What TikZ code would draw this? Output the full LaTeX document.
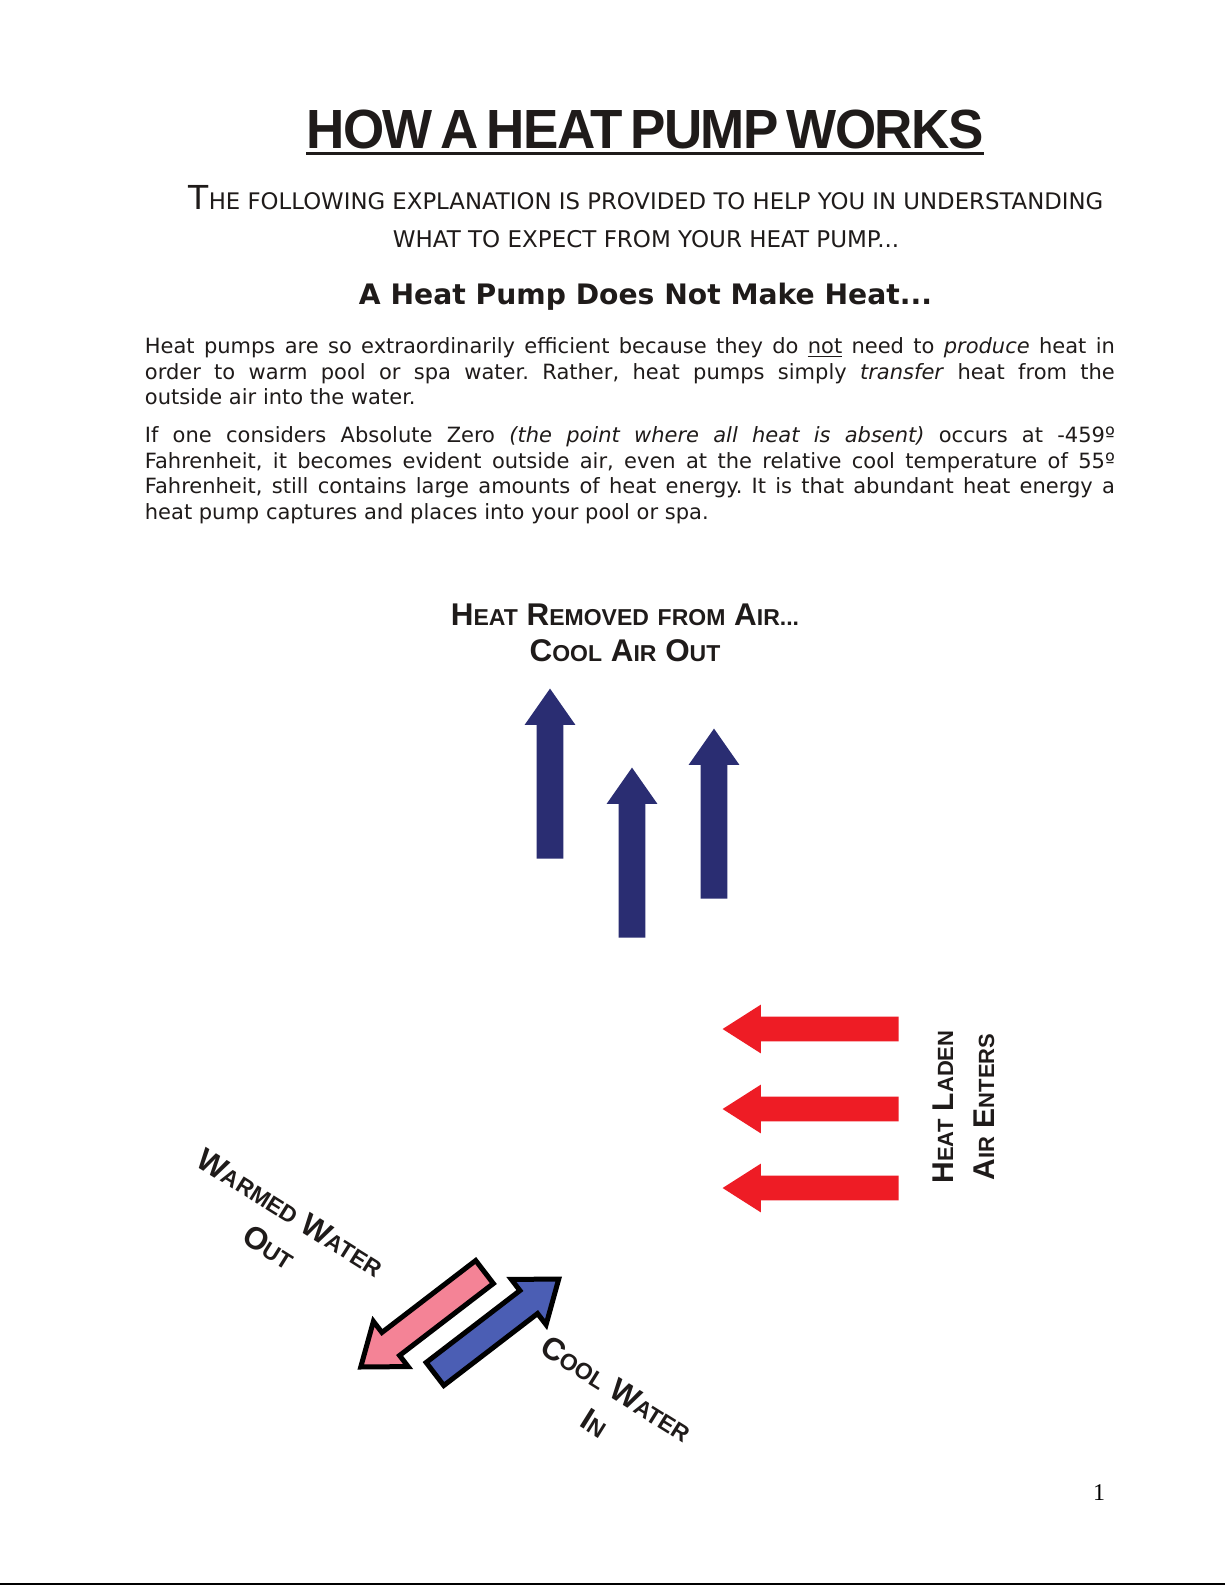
\documentclass[tikz,border=0pt]{standalone}
\usepackage{fontspec}
\setmainfont{DejaVu Sans}
\newfontfamily\headfont{Liberation Sans}
\newfontfamily\titlefont[LetterSpace=-3,WordSpace=0.6]{Liberation Sans}
\newfontfamily\numfont{Liberation Serif}
\usepackage{tikz}
\usetikzlibrary{shapes.arrows,positioning}
\definecolor{airblue}{HTML}{2A2D72}
\definecolor{airred}{HTML}{EE1C25}
\definecolor{warmpink}{HTML}{F48396}
\definecolor{coolblue}{HTML}{4B5EB4}
\definecolor{darktext}{HTML}{1F1B1A}
% big first letter, small rest (fake small caps)
\newcommand{\bigsz}{15}
\newcommand{\smsz}{11}
\newcommand{\capw}[2]{{\fontsize{\bigsz}{\bigsz}\selectfont #1}{\fontsize{\smsz}{\smsz}\selectfont #2}}
\newcommand{\smw}[1]{{\fontsize{\smsz}{\smsz}\selectfont #1}}
\tikzset{
  labeltext/.style={font=\headfont\bfseries\fontsize{15}{20.5}\selectfont,text=darktext,align=center,inner sep=0pt},
  widelabel/.style={font=\renewcommand{\bigsz}{15.7}\renewcommand{\smsz}{11.5}\headfont\bfseries\fontsize{15.7}{#1}\selectfont},
  bodytext/.style={font=\frenchspacing\fontsize{10.5}{12.75}\selectfont,text=darktext,text width=485pt,align=justify,inner sep=0pt,anchor=base west},
  uparrow/.style={single arrow,fill=airblue,inner sep=0pt,inner ysep=6.5pt,minimum height=85pt,single arrow head extend=6pt,single arrow tip angle=70,rotate=90,anchor=tail},
  inarrow/.style={single arrow,fill=airred,inner sep=0pt,inner ysep=6pt,minimum height=88pt,single arrow head extend=6pt,single arrow tip angle=65,rotate=180,anchor=tail},
  waterarrow/.style={single arrow,draw=black,line width=2.5pt,inner sep=0pt,inner ysep=6pt,minimum height=78pt,single arrow head extend=7pt,single arrow tip angle=74,anchor=tail}
}
\begin{document}
\begin{tikzpicture}[x=0.5pt,y=-0.5pt]
  \useasboundingbox[fill=white] (0,0) rectangle (1225,1585);

  % heading block
  \node[inner sep=0pt,text=darktext,anchor=base,font=\titlefont\bfseries\fontsize{27.6}{30}\selectfont] (title) at (645,148.6)
    {\scalebox{0.96}[1]{HOW A HEAT PUMP WORKS}};
  \draw[line width=1.5pt,darktext] ([yshift=-2.6pt]title.base west) -- ([yshift=-2.6pt]title.base east);
  \node[inner sep=0pt,text=darktext,anchor=base] (introa) at (646,209)
    {{\fontsize{16.5}{18}\selectfont T}{\fontsize{11.4}{12}\selectfont HE FOLLOWING EXPLANATION IS PROVIDED TO HELP YOU IN UNDERSTANDING}};
  \node[inner sep=0pt,text=darktext,anchor=base,font=\fontsize{11.5}{12}\selectfont] (introb) at (646,247.6)
    {WHAT TO EXPECT FROM YOUR HEAT PUMP...};
  \node[inner sep=0pt,text=darktext,anchor=base,font=\bfseries\fontsize{14.1}{16}\selectfont] (nomake) at (645.5,304)
    {A Heat Pump Does Not Make Heat...};

  \node[bodytext] (parone) at (144.5,353.7)
    {Heat pumps are so extraordinarily efficient because they do \underline{not} need to \textit{produce} heat in\linebreak
     order to warm pool or spa water. Rather, heat pumps simply \textit{transfer} heat from the\linebreak
     outside air into the water.};
  \node[bodytext] (partwo) at (144.5,442.7)
    {If one considers Absolute Zero \textit{(the point where all heat is absent)} occurs at -459º\linebreak
     Fahrenheit, it becomes evident outside air, even at the relative cool temperature of 55º\linebreak
     Fahrenheit, still contains large amounts of heat energy. It is that abundant heat energy a\linebreak
     heat pump captures and places into your pool or spa.};

  % cool air leaving
  \node[labeltext,widelabel=18.3] (coolair) at (625,633)
    {\capw{H}{EAT} \capw{R}{EMOVED} \smw{FROM} \capw{A}{IR...}\\\capw{C}{OOL} \capw{A}{IR} \capw{O}{UT}};
  \node[uparrow] (upone) at (550,859) {};
  \node[uparrow] (uptwo) at (632,938) {};
  \node[uparrow] (upthree) at (714,899) {};

  % warm air entering
  \node[inarrow] (inone) at (899,1029) {};
  \node[inarrow] (intwo) at (899,1109) {};
  \node[inarrow] (inthree) at (899,1188) {};
  \node[labeltext,rotate=90] (heatladen) at (963.5,1107)
    {\capw{H}{EAT} \capw{L}{ADEN}\\\capw{A}{IR} \capw{E}{NTERS}};

  % water loop
  \node[waterarrow,fill=warmpink,rotate=217.5] (waterout) at (486.5,1270.5) {};
  \node[waterarrow,fill=coolblue,rotate=37.5] (waterin) at (433,1375.5) {};
  \node[labeltext,widelabel=20.5,rotate=-32] (warmlabel) at (280,1230)
    {\capw{W}{ARMED} \capw{W}{ATER}\\\capw{O}{UT}};
  \node[labeltext,widelabel=20.5,rotate=-32] (coollabel) at (606,1406)
    {\capw{C}{OOL} \capw{W}{ATER}\\\capw{I}{N}};

  \node[inner sep=0pt,anchor=base,font=\numfont\fontsize{12}{14}\selectfont] (pagenum) at (1099,1500) {1};
  \draw[line width=1pt] (0,1583.5) -- (1225,1583.5);
\end{tikzpicture}
\end{document}
